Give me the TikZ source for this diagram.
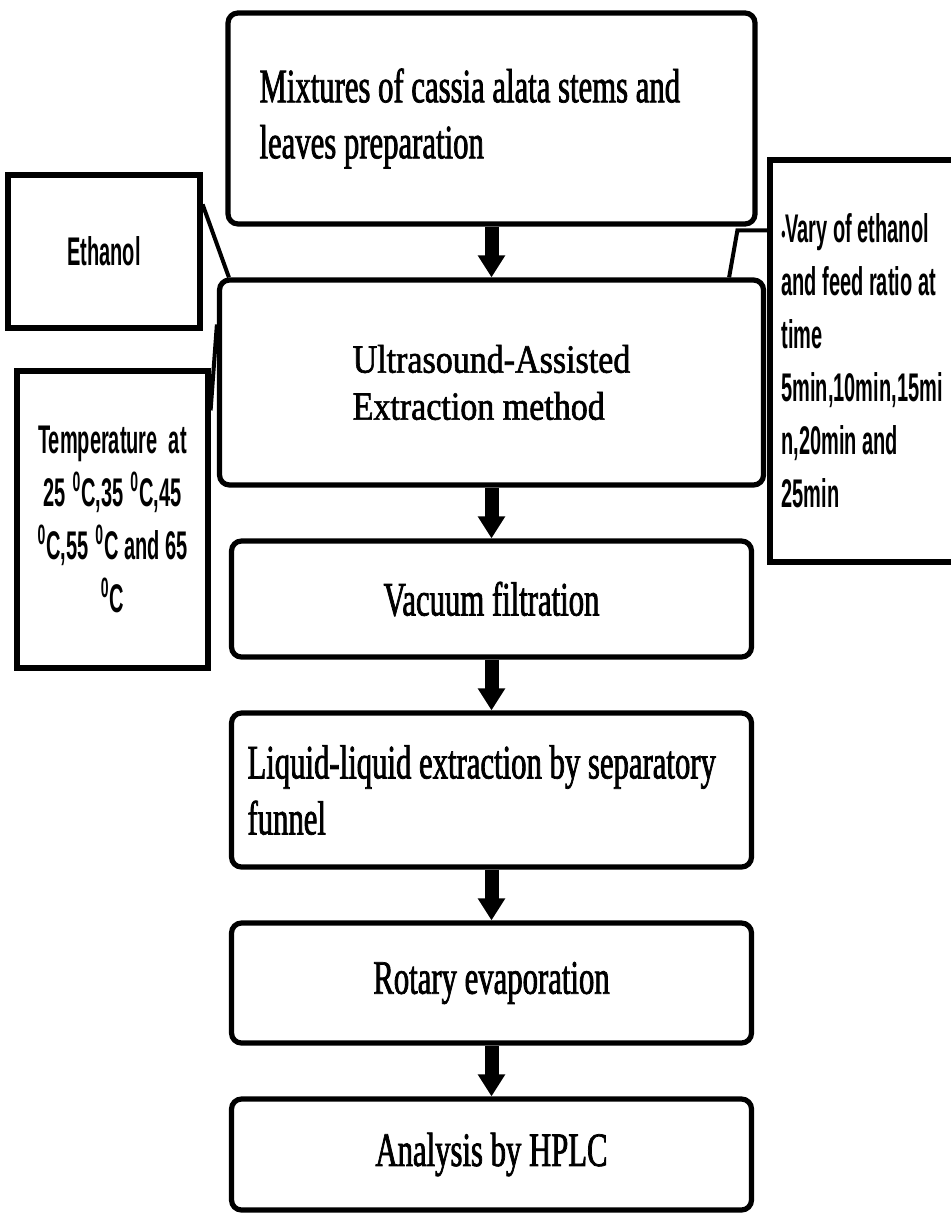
\documentclass[tikz,border=0pt]{standalone}
\usepackage{fontspec}
\usepackage{tikz}
\usetikzlibrary{arrows.meta, positioning, calc}
\newfontfamily\stepfont[FakeStretch=0.64,FakeBold=1.5]{Liberation Serif}
\newfontfamily\methodfont[FakeStretch=0.85,FakeBold=1.5]{Liberation Serif}
\newfontfamily\notefont[FakeStretch=0.5]{Liberation Sans}
\newcommand{\degc}{\textsuperscript{0}C}

\begin{document}
\begin{tikzpicture}[
    x=1pt, y=1pt,
    node distance=25.4pt,
    stepbox/.style={rectangle, draw, line width=2.6pt, rounded corners=5pt, minimum width=260pt, align=center, font=\stepfont\fontsize{24}{28}\selectfont},
    notebox/.style={rectangle, draw, line width=2.6pt, align=center, font=\notefont\bfseries\fontsize{20}{26.5}\selectfont},
    arrow/.style={-{Triangle[width=13pt,length=11pt]}, line width=7pt},
    link/.style={line width=2pt}
]
    \useasboundingbox (0,0) rectangle (475,-607);
    \node[stepbox, minimum width=263.5pt, minimum height=105.5pt, text width=232pt, align=flush left] (prep) at (245.75,-59.25) {\spaceskip=0pt\xspaceskip=0pt\relax Mixtures of cassia alata stems and\\leaves preparation};
    \node[stepbox, below=of prep, minimum width=272pt, minimum height=102.5pt, align=left, font=\methodfont\fontsize{20}{23.5}\selectfont] (uae) {Ultrasound-Assisted\\Extraction method};
    \node[stepbox, below=of uae, minimum height=58pt] (vacuum) {Vacuum filtration};
    \node[stepbox, below=of vacuum, minimum height=77pt, text width=244pt, align=flush left] (liquid) {\spaceskip=0pt\xspaceskip=0pt\relax Liquid-liquid extraction by separatory\\funnel};
    \node[stepbox, below=of liquid, minimum height=60pt] (rotary) {Rotary evaporation};
    \node[stepbox, below=of rotary, minimum height=55.5pt] (hplc) {Analysis by HPLC};

    % side notes
    \node[notebox, minimum width=96pt, minimum height=76.5pt] (ethanol) at (52,-125.75) {Ethanol};
    \node[notebox, minimum width=95.5pt, minimum height=148.5pt] (temp) at (56.25,-259.75) {Temperature~~at\\25\,\degc,35\,\degc,45\\\degc,55\,\degc{} and 65\\\degc};
    \node[notebox, minimum width=92pt, minimum height=201pt, align=left, inner xsep=3pt] (vary) at (431,-180.5) {{\fontsize{12}{12}\selectfont •}Vary of ethanol\\and feed ratio at\\time\\5min,10min,15mi\\n,20min and\\25min};

    \draw[link] ($(ethanol.north east)+(0,-16)$) -- ($(uae.north west)+(6,0)$);
    \draw[link] ($(temp.north east)+(0,-21)$) -- ($(uae.north west)+(0,-23.5)$);
    \draw[link] ($(vary.north west)+(0,-36.5)$) -- ++(-15,0) -- ($(uae.north east)+(-18.5,0)$);

    \draw[arrow] (prep) -- (uae);
    \draw[arrow] (uae) -- (vacuum);
    \draw[arrow] (vacuum) -- (liquid);
    \draw[arrow] (liquid) -- (rotary);
    \draw[arrow] (rotary) -- (hplc);
\end{tikzpicture}
\end{document}
